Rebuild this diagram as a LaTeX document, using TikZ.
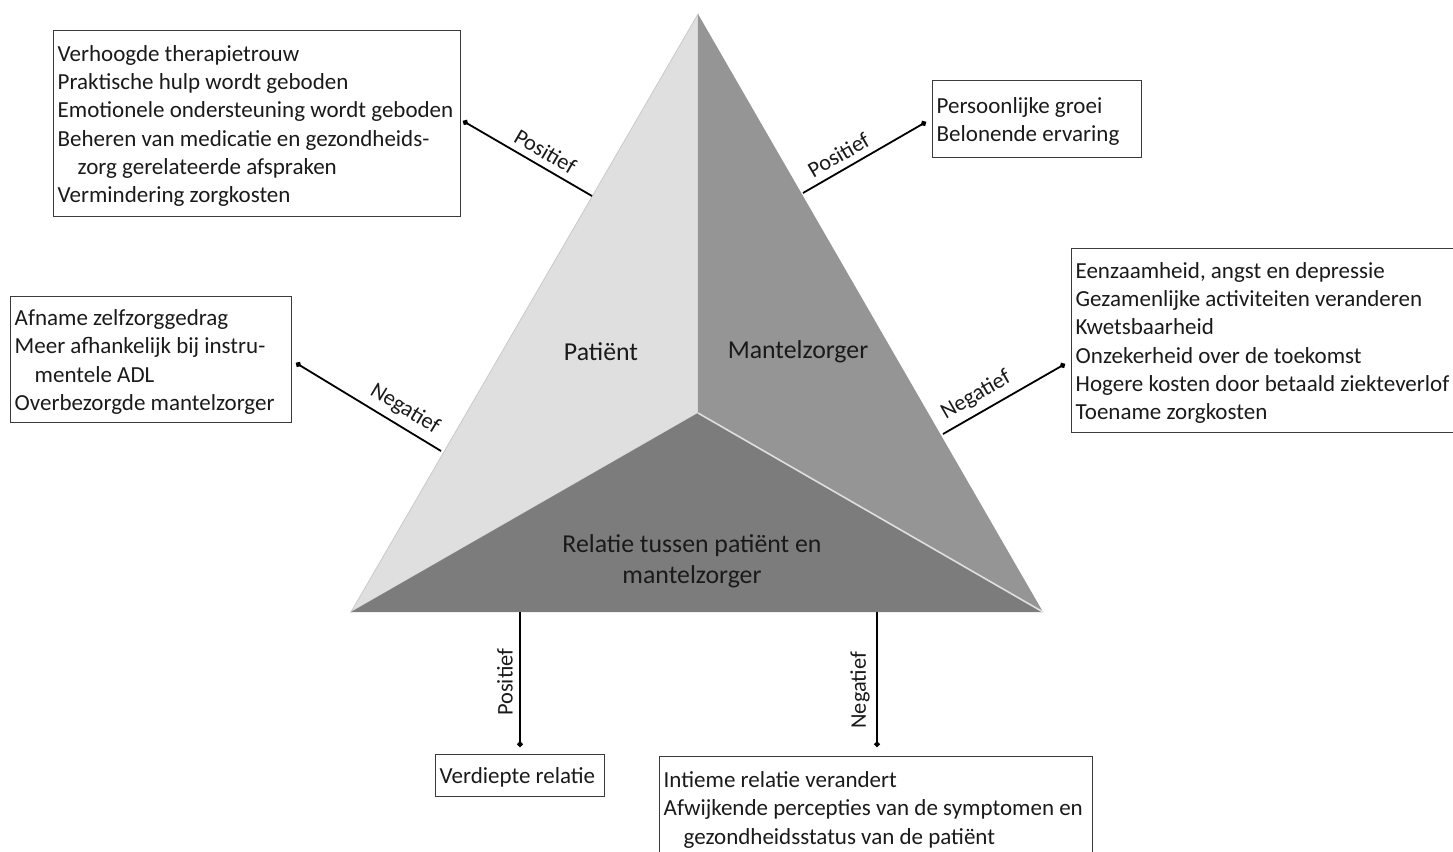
\documentclass[tikz,border=0pt]{standalone}
\usepackage{fontspec}
\setmainfont{Carlito}
\usetikzlibrary{arrows.meta}
\definecolor{faceL}{HTML}{DFDFDF}
\definecolor{faceR}{HTML}{959595}
\definecolor{faceB}{HTML}{7C7C7C}
\definecolor{txt}{HTML}{1A1A1A}
\definecolor{boxline}{HTML}{3A3A3A}
\newcommand{\bxt}[2]{\makebox[#1][l]{\raisebox{-1.3pt}[\height][\depth]{\begin{tabular}{@{}l@{}}#2\end{tabular}}}}
\tikzset{
  box/.style={draw=boxline, line width=0.7pt, anchor=north west,
    inner xsep=2pt, inner ysep=0pt, text=txt,
    font=\fontsize{11.5}{14.15}\selectfont},
  face/.style={line width=0.4pt},
  conn/.style={line width=0.9pt, -{Circle[length=2.8pt]}},
  lab/.style={font=\fontsize{11.2}{13}\selectfont, text=txt, inner sep=3.2pt},
  facelab/.style={font=\fontsize{12.9}{15.5}\selectfont, text=txt, align=center}
}
\begin{document}
\begin{tikzpicture}[x=0.5pt,y=-0.5pt]
\useasboundingbox (0,0) rectangle (1453,852);
% triangle
\coordinate (A) at (698,14);
\coordinate (BL) at (351,612);
\coordinate (BR) at (1043,612);
\coordinate (C) at (698,413);
\fill[faceL, draw=faceL!90!black, face] (A) -- (C) -- (BL) -- cycle;
\fill[faceR] (A) -- (BR) -- (C) -- cycle;
\fill[faceB] (C) -- (BR) -- (BL) -- cycle;
\draw[white!75!gray, line width=0.8pt] (C) -- (BR);
\node[facelab] (pat) at (601,352) {Patiënt};
\node[facelab] (man) at (798,352) {Mantelzorger};
\node[facelab] (rel) at (692,561) {Relatie tussen patiënt en\\mantelzorger};

% boxes
\node[box, minimum height=93pt] (b1) at (53,30)
 {\bxt{199.5pt}{Verhoogde therapietrouw\\Praktische hulp wordt geboden\\Emotionele ondersteuning wordt geboden\\Beheren van medicatie en gezondheids-\\\hspace*{10pt}zorg gerelateerde afspraken\\Vermindering zorgkosten}};
\node[box, minimum height=38.5pt] (b2) at (932,80)
 {\bxt{100.5pt}{Persoonlijke groei\\Belonende ervaring}};
\node[box, minimum height=63pt] (b3) at (10,296)
 {\bxt{136.5pt}{Afname zelfzorggedrag\\Meer afhankelijk bij instru-\\\hspace*{10pt}mentele ADL\\Overbezorgde mantelzorger}};
\node[box, minimum height=92pt] (b4) at (1071,248)
 {\bxt{191pt}{Eenzaamheid, angst en depressie\\Gezamenlijke activiteiten veranderen\\Kwetsbaarheid\\Onzekerheid over de toekomst\\Hogere kosten door betaald ziekteverlof\\Toename zorgkosten}};
\node[box, minimum height=21pt] (b5) at (435,754)
 {\bxt{80.5pt}{Verdiepte relatie}};
\node[box, minimum height=51pt] (b6) at (659,756)
 {\bxt{212.5pt}{Intieme relatie verandert\\Afwijkende percepties van de symptomen en\\\hspace*{10pt}gezondheidsstatus van de patiënt}};

% connector end points
\coordinate (s1) at (592,196); \coordinate (e1) at (463,121);
\coordinate (s2) at (803,193); \coordinate (e2) at (926,122);
\coordinate (s3) at (441,451); \coordinate (e3) at (296,363);
\coordinate (s4) at (943,434); \coordinate (e4) at (1065,364);
\coordinate (s5) at (520,612); \coordinate (e5) at (520,747);
\coordinate (s6) at (877,612); \coordinate (e6) at (877,747);

\draw[conn] (s1) -- node[lab, sloped, above, pos=0.42] {Positief} (e1);
\draw[conn] (s2) -- node[lab, sloped, above, pos=0.35] {Positief} (e2);
\draw[conn] (s3) -- node[lab, sloped, above, pos=0.31] {Negatief} (e3);
\draw[conn] (s4) -- node[lab, sloped, above, pos=0.34] {Negatief} (e4);
\draw[conn] (s5) -- node[lab, rotate=90, anchor=south, pos=0.52] {Positief} (e5);
\draw[conn] (s6) -- node[lab, rotate=90, anchor=south, pos=0.58] {Negatief} (e6);
\end{tikzpicture}
\end{document}
